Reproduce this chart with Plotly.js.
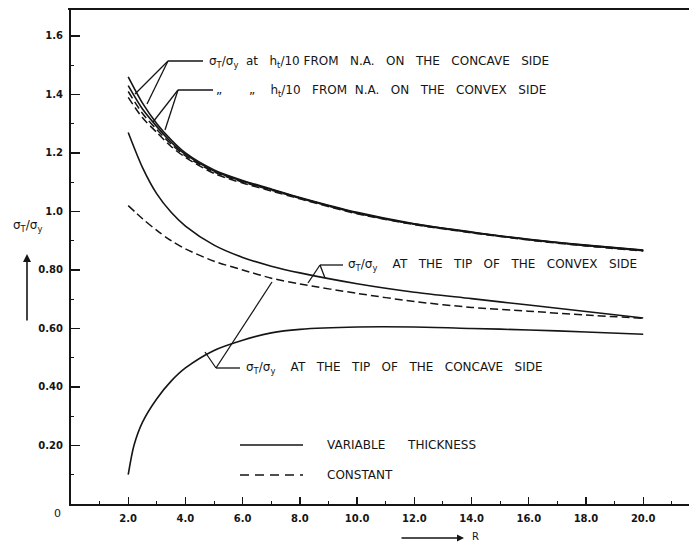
<!DOCTYPE html>
<html>
<head>
<meta charset="utf-8">
<script src="https://cdn.plot.ly/plotly-3.0.1.min.js"></script>
<style>html,body{margin:0;padding:0;background:#fff;}#chart{width:690px;height:544px;}</style>
</head>
<body>
<div id="chart"></div>
<script>
// ---- data ----
const xTop = [2.0, 2.5, 3.0, 3.5, 4.0, 5.0, 6.0, 7.0, 8.0, 10.0, 12.0, 14.0, 16.0, 18.0, 20.0];
const concaveHVar   = [1.46, 1.37, 1.30, 1.245, 1.20, 1.142, 1.106, 1.077, 1.048, 0.997, 0.958, 0.930, 0.905, 0.885, 0.868];
const convexHVar    = [1.43, 1.35, 1.29, 1.237, 1.195, 1.138, 1.103, 1.075, 1.046, 0.995, 0.957, 0.929, 0.904, 0.884, 0.867];
const concaveHConst = [1.41, 1.335, 1.28, 1.23, 1.19, 1.135, 1.100, 1.073, 1.045, 0.994, 0.956, 0.928, 0.903, 0.883, 0.866];
const convexHConst  = [1.39, 1.32, 1.27, 1.222, 1.185, 1.130, 1.097, 1.070, 1.043, 0.992, 0.955, 0.927, 0.902, 0.882, 0.865];

const xTip = [2.0, 2.5, 3.0, 3.5, 4.0, 5.0, 6.0, 7.0, 8.0, 10.0, 12.0, 14.0, 16.0, 18.0, 20.0];
const convexTipVar   = [1.27, 1.15, 1.06, 0.997, 0.95, 0.885, 0.843, 0.813, 0.79, 0.753, 0.724, 0.702, 0.68, 0.658, 0.636];
const convexTipConst = [1.02, 0.975, 0.935, 0.90, 0.872, 0.83, 0.80, 0.772, 0.752, 0.72, 0.692, 0.672, 0.659, 0.646, 0.635];

const xConc = [2.0, 2.2, 2.5, 3.0, 3.5, 4.0, 5.0, 6.0, 7.0, 8.0, 10.0, 12.0, 14.0, 16.0, 18.0, 20.0];
const concaveTipVar = [0.10, 0.20, 0.28, 0.36, 0.42, 0.465, 0.525, 0.56, 0.585, 0.597, 0.605, 0.605, 0.60, 0.595, 0.588, 0.58];

const xTickVals = [2, 4, 6, 8, 10, 12, 14, 16, 18, 20];
const xTickText = ["2.0", "4.0", "6.0", "8.0", "10.0", "12.0", "14.0", "16.0", "18.0", "20.0"];
const yTickVals = [0.2, 0.4, 0.6, 0.8, 1.0, 1.2, 1.4, 1.6];
const yTickText = ["0.20", "0.40", "0.60", "0.80", "1.0", "1.2", "1.4", "1.6"];

// ---- geometry helpers (pixel -> data / paper) ----
const L = 71, R = 689, T = 9, B = 504;
const XMAX = 21.6, YMAX = 1.692;
const dx = px => (px - L) / (R - L) * XMAX;
const dy = py => (B - py) / (B - T) * YMAX;
const px_ = px => (px - L) / (R - L);
const py_ = py => (B - py) / (B - T);

const INK = "#151515";
const solid = {color: INK, width: 1.6};
const dashed = {color: INK, width: 1.5, dash: "8px,4px"};

const traces = [
  {x: xTop, y: concaveHVar, mode: "lines", line: solid},
  {x: xTop, y: convexHVar, mode: "lines", line: solid},
  {x: xTop, y: concaveHConst, mode: "lines", line: dashed},
  {x: xTop, y: convexHConst, mode: "lines", line: dashed},
  {x: xTip, y: convexTipVar, mode: "lines", line: solid},
  {x: xTip, y: convexTipConst, mode: "lines", line: dashed},
  {x: xConc, y: concaveTipVar, mode: "lines", line: solid}
].map(t => Object.assign(t, {line: Object.assign({shape: "spline", smoothing: 0.8}, t.line), showlegend: false, hoverinfo: "skip"}));

function seg(x0, y0, x1, y1, w) {
  return {type: "line", xref: "x", yref: "y", x0: dx(x0), y0: dy(y0), x1: dx(x1), y1: dy(y1),
          line: {color: INK, width: w || 1.3}};
}

const shapes = [
  // top frame line
  {type: "line", xref: "paper", yref: "paper", x0: px_(68), x1: 1.0, y0: 1, y1: 1, line: {color: INK, width: 2}},
  // leader: concave side h/10
  seg(168, 61, 203, 61), seg(168, 61, 135, 94), seg(168, 61, 147, 104),
  // leader: convex side h/10
  seg(178, 90, 213, 90), seg(178, 90, 153, 122), seg(178, 90, 165, 130),
  // leader: tip of convex side
  seg(320, 265, 343, 265), seg(320, 265, 308, 283), seg(320, 265, 325, 278),
  // leader: tip of concave side
  seg(216, 368, 240, 368), seg(216, 368, 205, 352), seg(216, 368, 272, 282),
  // legend samples
  {type: "line", xref: "paper", yref: "paper", x0: px_(240), x1: px_(303), y0: py_(445), y1: py_(445), line: {color: INK, width: 1.6}},
  {type: "line", xref: "paper", yref: "paper", x0: px_(240), x1: px_(303), y0: py_(475), y1: py_(475), line: {color: INK, width: 1.5, dash: "9px,6px"}}
];

const tf = {family: "DejaVu Sans, sans-serif", size: 12, color: INK};
function note(text, px, py, anchor, size) {
  return {xref: "paper", yref: "paper", x: px_(px), y: py_(py), text: text, showarrow: false,
          xanchor: anchor || "left", yanchor: "middle", font: Object.assign({}, tf, size ? {size: size} : {})};
}

const annotations = [
  note("σ<sub>T</sub>/σ<sub>y</sub>  at   h<sub>t</sub>/10 FROM   N.A.   ON   THE   CONCAVE   SIDE", 207, 62),
  note("\u201E       \u201E    h<sub>t</sub>/10   FROM  N.A.   ON   THE   CONVEX   SIDE", 214, 91),
  note("σ<sub>T</sub>/σ<sub>y</sub>    AT   THE   TIP   OF   THE   CONVEX   SIDE", 346, 265),
  note("σ<sub>T</sub>/σ<sub>y</sub>    AT   THE   TIP   OF   THE   CONCAVE   SIDE", 244, 368),
  note("VARIABLE      THICKNESS", 325, 445),
  note("CONSTANT", 325, 475),
  // y-axis title and arrow
  note("σ<sub>T</sub>/σ<sub>y</sub>", 28, 226, "center", 12),
  {xref: "paper", yref: "paper", x: px_(27), y: py_(254), ax: px_(27), ay: py_(322), axref: "paper", ayref: "paper",
   text: "", showarrow: true, arrowhead: 2, arrowsize: 1, arrowwidth: 1.6, arrowcolor: INK},
  // x-axis arrow and label
  {xref: "paper", yref: "paper", x: px_(464), y: py_(538), ax: px_(400), ay: py_(538), axref: "paper", ayref: "paper",
   text: "", showarrow: true, arrowhead: 2, arrowsize: 1, arrowwidth: 1.4, arrowcolor: INK},
  note("R", 470, 536, "left", 10),
  // origin label
  note("0", 57, 513, "center", 11)
];

const tickFont = {family: "DejaVu Sans, sans-serif", size: 10, color: INK, weight: "bold"};

const layout = {
  width: 690, height: 544,
  margin: {l: L, r: 690 - R, t: T, b: 544 - B},
  paper_bgcolor: "#fff", plot_bgcolor: "#fff",
  showlegend: false,
  xaxis: {
    range: [0, XMAX], showgrid: false, zeroline: false,
    showline: true, linecolor: INK, linewidth: 2,
    tickmode: "array", tickvals: xTickVals, ticktext: xTickText,
    ticks: "inside", ticklen: 7, tickwidth: 1.3, tickcolor: INK,
    minor: {dtick: 1, tick0: 0, ticks: "inside", ticklen: 3, tickwidth: 1, tickcolor: INK, showgrid: false},
    tickfont: tickFont, ticklabelstandoff: 4
  },
  yaxis: {
    range: [0, YMAX], showgrid: false, zeroline: false,
    showline: true, linecolor: INK, linewidth: 2,
    tickmode: "array", tickvals: yTickVals, ticktext: yTickText,
    ticks: "inside", ticklen: 9, tickwidth: 1.3, tickcolor: INK,
    minor: {dtick: 0.1, tick0: 0, ticks: "inside", ticklen: 3, tickwidth: 1, tickcolor: INK, showgrid: false},
    tickfont: tickFont, ticklabelstandoff: 4
  },
  shapes: shapes,
  annotations: annotations
};

Plotly.newPlot("chart", traces, layout, {staticPlot: true, displayModeBar: false});
</script>
</body>
</html>
